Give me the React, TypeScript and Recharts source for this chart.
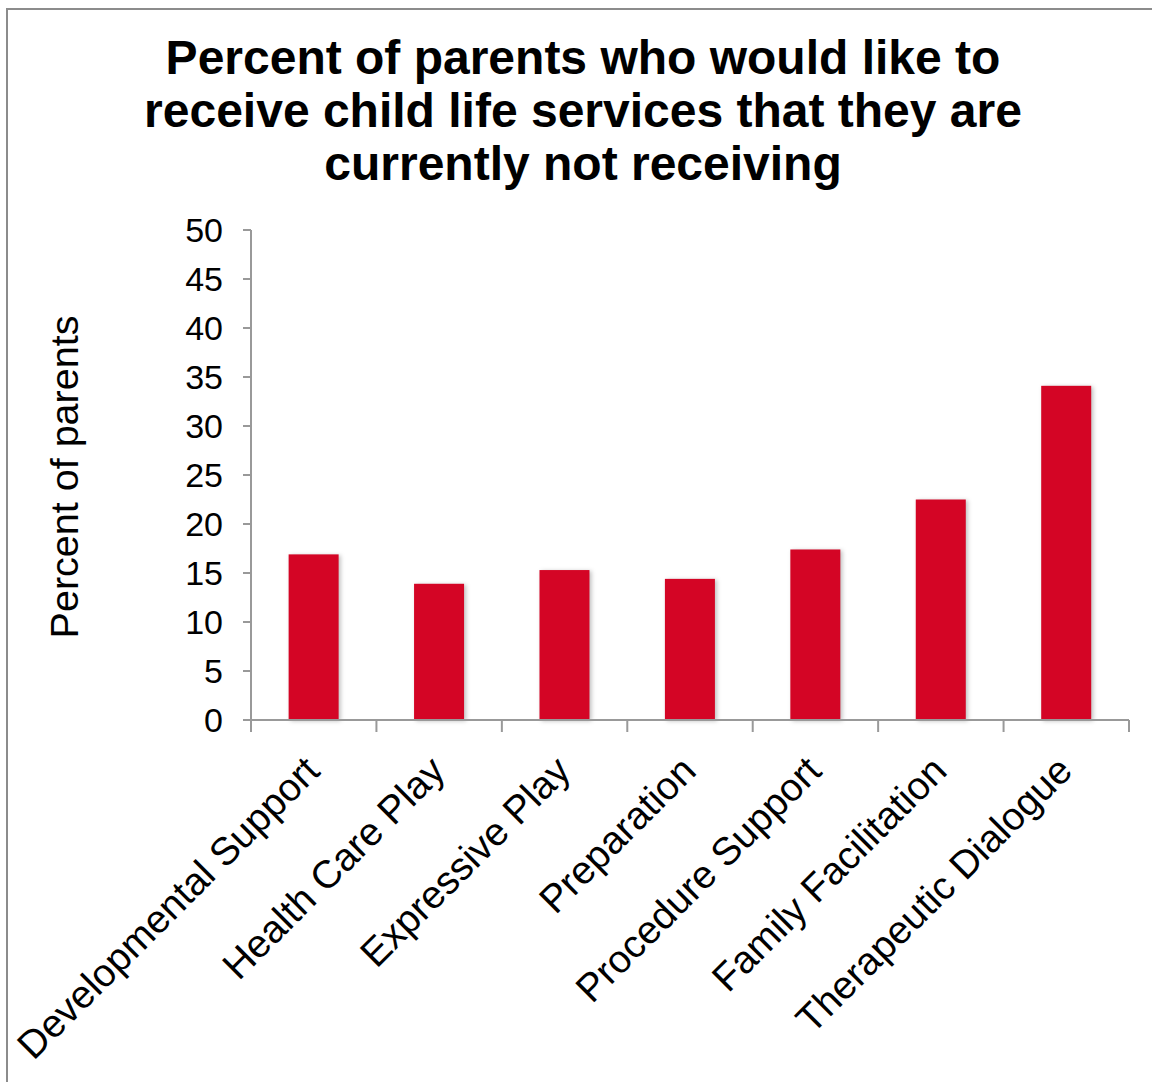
import { BarChart, Bar, XAxis, YAxis } from "recharts";

const categories = [
  "Developmental Support",
  "Health Care Play",
  "Expressive Play",
  "Preparation",
  "Procedure Support",
  "Family Facilitation",
  "Therapeutic Dialogue",
];
const percents = [16.9, 13.9, 15.3, 14.4, 17.4, 22.5, 34.1];
const yTicks = [0, 5, 10, 15, 20, 25, 30, 35, 40, 45, 50];
const titleLines = [
  "Percent of parents who would like to",
  "receive child life services that they are",
  "currently not receiving",
];

const FONT = '"Liberation Sans", Arial, Helvetica, sans-serif';
const AXIS = "#999999";
const BAR = "#d40525";

const W = 1152;
const H = 1082;
const Y_AXIS_W = 251;
const RIGHT = 23;
const PLOT_W = W - Y_AXIS_W - RIGHT;

const data = categories.map((name, i) => ({ name, value: percents[i] }));

// eslint-disable-next-line @typescript-eslint/no-explicit-any
const CategoryTick = (props: any) => {
  const { x, y, payload, index } = props;
  const band = PLOT_W / categories.length;
  const ax = x + 8;
  const ay = y + 53;
  return (
    <g>
      <line x1={x - band / 2} y1={y} x2={x - band / 2} y2={y + 12} stroke={AXIS} strokeWidth={2} />
      {index === categories.length - 1 && (
        <line x1={x + band / 2} y1={y} x2={x + band / 2} y2={y + 12} stroke={AXIS} strokeWidth={2} />
      )}
      <text
        x={ax}
        y={ay}
        transform={`rotate(-45 ${ax} ${ay})`}
        textAnchor="end"
        fontSize={39}
        fontFamily={FONT}
        fill="#000"
      >
        {payload.value}
      </text>
    </g>
  );
};

// eslint-disable-next-line @typescript-eslint/no-explicit-any
const ShadowBar = (props: any) => {
  const { x, y, width, height, fill } = props;
  return (
    <rect
      x={x}
      y={y}
      width={width}
      height={height}
      fill={fill}
      style={{ filter: "drop-shadow(2px 1px 2px rgba(0,0,0,0.25))" }}
    />
  );
};

export default function App() {
  return (
    <div
      style={{
        position: "absolute",
        left: 0,
        top: 0,
        width: W,
        height: H,
        background: "#fff",
        overflow: "hidden",
      }}
    >
      <div
        style={{
          position: "absolute",
          left: 6,
          top: 8,
          width: 1300,
          height: 1200,
          borderLeft: "2px solid #8c8c8c",
          borderTop: "2px solid #8c8c8c",
        }}
      />
      <div
        style={{
          position: "absolute",
          left: 0,
          top: 31,
          width: 1166,
          textAlign: "center",
          fontFamily: FONT,
          fontWeight: "bold",
          fontSize: 48,
          lineHeight: "53px",
          color: "#000",
        }}
      >
        {titleLines.map((t) => (
          <div key={t}>{t}</div>
        ))}
      </div>
      <div style={{ position: "absolute", left: 0, top: 0 }}>
        <BarChart
          width={W}
          height={H}
          data={data}
          margin={{ top: 230, right: RIGHT, bottom: 0, left: 0 }}
          barCategoryGap="30%"
        >
          <YAxis
            width={Y_AXIS_W}
            domain={[0, 50]}
            ticks={yTicks}
            interval={0}
            tickSize={8}
            tickMargin={20}
            axisLine={{ stroke: AXIS, strokeWidth: 2 }}
            tickLine={{ stroke: AXIS, strokeWidth: 2 }}
            tick={{ fontSize: 34, fontFamily: FONT, fill: "#000" }}
            label={{
              content: () => (
                <text
                  x={78}
                  y={477}
                  transform="rotate(-90 78 477)"
                  textAnchor="middle"
                  fontSize={39.5}
                  fontFamily={FONT}
                  fill="#000"
                >
                  Percent of parents
                </text>
              ),
            }}
          />
          <XAxis
            dataKey="name"
            height={H - 720}
            interval={0}
            tickSize={0}
            tickMargin={0}
            tickLine={false}
            axisLine={{ stroke: AXIS, strokeWidth: 2 }}
            tick={<CategoryTick />}
          />
          <Bar dataKey="value" fill={BAR} shape={<ShadowBar />} isAnimationActive={false} />
        </BarChart>
      </div>
    </div>
  );
}
